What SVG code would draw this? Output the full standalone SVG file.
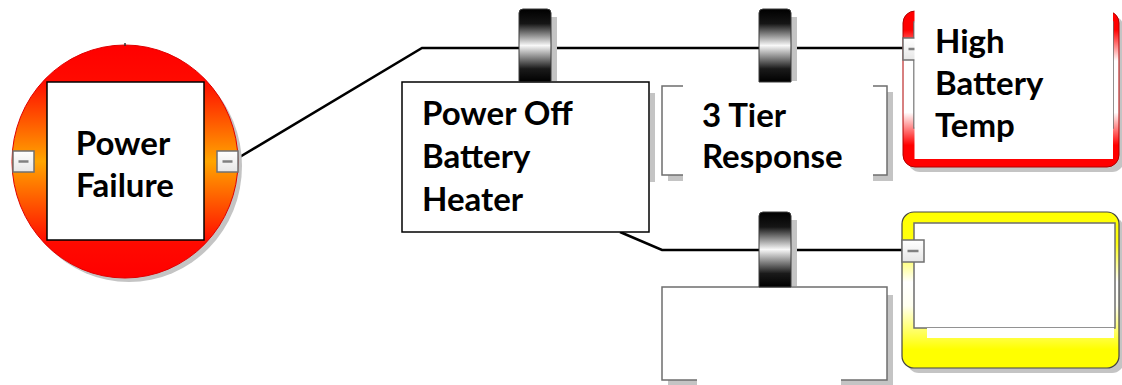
<svg xmlns="http://www.w3.org/2000/svg" width="1122" height="385" viewBox="0 0 1122 385">
<defs>
  <linearGradient id="gOrange" x1="0" y1="0" x2="0" y2="1">
    <stop offset="0" stop-color="#ff0000"/>
    <stop offset="0.15" stop-color="#ff0a00"/>
    <stop offset="0.5" stop-color="#ffa500"/>
    <stop offset="0.85" stop-color="#ff0a00"/>
    <stop offset="1" stop-color="#ff0000"/>
  </linearGradient>
  <linearGradient id="gRed" x1="0" y1="0" x2="0" y2="1">
    <stop offset="0" stop-color="#ff0000"/>
    <stop offset="0.12" stop-color="#ff0000"/>
    <stop offset="0.32" stop-color="#ffffff"/>
    <stop offset="0.65" stop-color="#ffffff"/>
    <stop offset="0.86" stop-color="#ff0000"/>
    <stop offset="1" stop-color="#ff0000"/>
  </linearGradient>
  <linearGradient id="gYellow" x1="0" y1="0" x2="0" y2="1">
    <stop offset="0" stop-color="#ffff00"/>
    <stop offset="0.2" stop-color="#ffff10"/>
    <stop offset="0.45" stop-color="#ffffff"/>
    <stop offset="0.6" stop-color="#fffff0"/>
    <stop offset="0.88" stop-color="#ffff00"/>
    <stop offset="1" stop-color="#ffff00"/>
  </linearGradient>
  <linearGradient id="gCap" x1="0" y1="0" x2="0" y2="1">
    <stop offset="0" stop-color="#000000"/>
    <stop offset="0.2" stop-color="#151515"/>
    <stop offset="0.5" stop-color="#f8f8f8"/>
    <stop offset="0.82" stop-color="#1a1a1a"/>
    <stop offset="1" stop-color="#000000"/>
  </linearGradient>
  <linearGradient id="gBtn" x1="0" y1="0" x2="0" y2="1">
    <stop offset="0" stop-color="#ffffff"/>
    <stop offset="1" stop-color="#e6e6e6"/>
  </linearGradient>
</defs>
<style>
  .lbl { font-family: Lato, "Liberation Sans", sans-serif; font-weight: 700; font-size: 33px; fill: #000; }
  .conn { fill: none; stroke: #000; stroke-width: 2.5; }
  .shadow { fill: #c4c4c4; }
  .box { fill: #fff; stroke: #000; stroke-width: 1.5; }
  .gbox { fill: #fff; stroke: #6e6e6e; stroke-width: 1.5; }
  .btn { fill: url(#gBtn); stroke: #707070; stroke-width: 1.5; }
  .dash { stroke: #808080; stroke-width: 2.5; }
  .cap { fill: url(#gCap); stroke: #3a3a3a; stroke-width: 1; }
  .cover { fill: #fff; }
</style>

<g id="connectors">
  <polyline class="conn" points="238,158 422,48 903,48"/>
  <polyline class="conn" points="620,232 662,250 903,250"/>
</g>

<g id="node-power-failure">
  <ellipse class="shadow" cx="129" cy="166" rx="113" ry="116"/>
  <ellipse cx="125" cy="161.5" rx="113" ry="116.5" fill="url(#gOrange)" stroke="#e00000" stroke-width="1"/>
  <line x1="125" y1="43" x2="125" y2="46" stroke="#333" stroke-width="1.5"/>
  <rect class="box" x="47" y="82" width="157" height="158"/>
  <text class="lbl" text-anchor="middle"><tspan x="123" y="155">Power</tspan><tspan x="125" y="197">Failure</tspan></text>
  <rect class="btn" x="13" y="151" width="21" height="21"/>
  <line class="dash" x1="18.5" y1="161.5" x2="28.5" y2="161.5"/>
  <rect class="btn" x="217" y="151" width="21" height="21"/>
  <line class="dash" x1="222.5" y1="161.5" x2="232.5" y2="161.5"/>
</g>

<g id="node-power-off-heater">
  <rect class="shadow" x="650" y="93" width="5" height="89"/>
  <rect class="box" x="402" y="82" width="247" height="150"/>
  <text class="lbl"><tspan x="422" y="125">Power Off</tspan><tspan x="422" y="168">Battery</tspan><tspan x="422" y="211">Heater</tspan></text>
</g>

<g id="node-three-tier">
  <rect class="shadow" x="668" y="92" width="225" height="89"/>
  <rect class="gbox" x="662" y="86" width="225" height="89"/>
  <rect class="cover" x="683" y="78" width="190" height="108"/>
  <text class="lbl"><tspan x="702" y="127">3 Tier</tspan><tspan x="702" y="168">Response</tspan></text>
</g>

<g id="node-empty-box">
  <rect class="shadow" x="668" y="295" width="225" height="90"/>
  <rect class="gbox" x="662" y="287" width="225" height="93"/>
  <rect class="cover" x="697" y="290" width="144" height="95"/>
</g>

<g id="gate-1">
  <rect class="shadow" x="551" y="17" width="6" height="64"/>
  <path class="cap" d="M519,82 V13 Q519,9 523,9 H547 Q551,9 551,13 V82 Z"/>
</g>
<g id="gate-2">
  <rect class="shadow" x="791" y="17" width="6" height="64"/>
  <path class="cap" d="M759,82 V13 Q759,9 763,9 H787 Q791,9 791,13 V82 Z"/>
</g>
<g id="gate-3">
  <rect class="shadow" x="791" y="220" width="6" height="66"/>
  <path class="cap" d="M759,287 V216 Q759,212 763,212 H787 Q791,212 791,216 V287 Z"/>
</g>

<g id="node-high-battery-temp">
  <rect class="shadow" x="908" y="16" width="216" height="156" rx="12"/>
  <rect x="903" y="11" width="216" height="156" rx="12" fill="url(#gRed)" stroke="#b00000" stroke-width="1"/>
  <rect class="gbox" x="914" y="22" width="199" height="106"/>
  <rect class="btn" x="903" y="38" width="22" height="22"/>
  <line class="dash" x1="908.5" y1="49" x2="919.5" y2="49"/>
  <rect class="cover" x="914.5" y="8" width="198.5" height="151"/>
  <text class="lbl"><tspan x="935" y="53">High</tspan><tspan x="935" y="95">Battery</tspan><tspan x="935" y="137">Temp</tspan></text>
</g>

<g id="node-yellow">
  <rect class="shadow" x="907" y="217" width="217" height="156" rx="12"/>
  <rect x="902" y="212" width="217" height="156" rx="12" fill="url(#gYellow)" stroke="#444" stroke-width="1.2"/>
  <rect class="gbox" x="914" y="223" width="201" height="105"/>
  <rect class="cover" x="927" y="328" width="187" height="10"/>
  <rect class="btn" x="902" y="240" width="22" height="22"/>
  <line class="dash" x1="907.5" y1="251" x2="918.5" y2="251"/>
</g>
</svg>
